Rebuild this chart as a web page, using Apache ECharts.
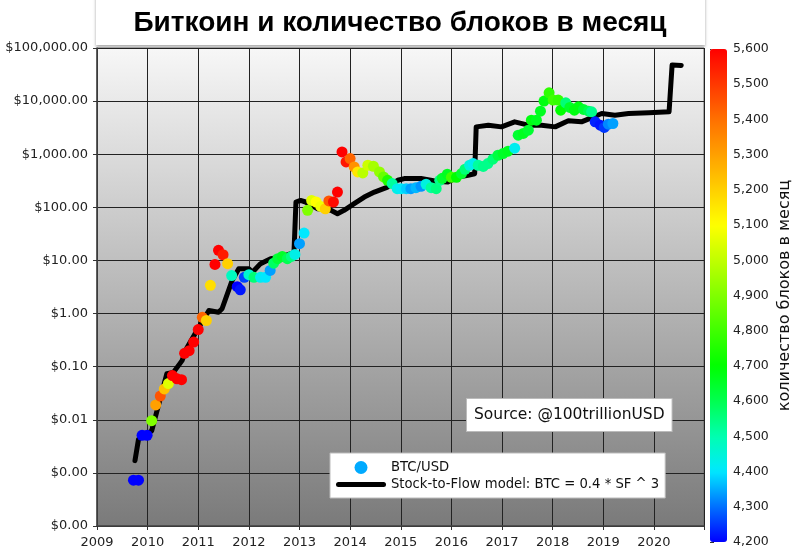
<!DOCTYPE html>
<html>
<head>
<meta charset="utf-8">
<script src="https://cdn.jsdelivr.net/npm/echarts@6/dist/echarts.min.js"></script>
<style>
html, body { margin: 0; padding: 0; background: #fff; }
#chart { width: 800px; height: 558px; }
</style>
</head>
<body>
<div id="chart"></div>
<script>
// BTC/USD monthly points (decimal year, price, blocks per month)
var btcDates = [2009.72, 2009.82, 2009.89, 2009.99, 2010.08, 2010.16, 2010.25, 2010.33, 2010.41, 2010.49,
    2010.58, 2010.67, 2010.73, 2010.82, 2010.91, 2011.00, 2011.08, 2011.16, 2011.24, 2011.33,
    2011.40, 2011.49, 2011.58, 2011.66, 2011.77, 2011.83, 2011.91, 2012.00, 2012.10, 2012.23,
    2012.33, 2012.42, 2012.49, 2012.57, 2012.66, 2012.76, 2012.84, 2012.91, 2013.00, 2013.09,
    2013.16, 2013.24, 2013.33, 2013.42, 2013.51, 2013.58, 2013.67, 2013.75, 2013.84, 2013.92,
    2014.00, 2014.08, 2014.15, 2014.25, 2014.35, 2014.46, 2014.58, 2014.66, 2014.74, 2014.83,
    2014.93, 2015.01, 2015.11, 2015.20, 2015.30, 2015.40, 2015.50, 2015.60, 2015.70, 2015.77,
    2015.82, 2015.92, 2016.00, 2016.10, 2016.20, 2016.27, 2016.36, 2016.43, 2016.53, 2016.63,
    2016.72, 2016.82, 2016.92, 2017.02, 2017.12, 2017.25, 2017.32, 2017.42, 2017.52, 2017.58,
    2017.68, 2017.76, 2017.83, 2017.93, 2018.01, 2018.11, 2018.16, 2018.26, 2018.34, 2018.43,
    2018.51, 2018.61, 2018.71, 2018.77, 2018.84, 2018.94, 2019.02, 2019.10, 2019.19];
var btcPrices = [0.00073, 0.00073, 0.0051, 0.0051, 0.0096, 0.019, 0.028, 0.038, 0.048, 0.068,
    0.059, 0.057, 0.178, 0.20, 0.29, 0.50, 0.85, 0.74, 3.4, 8.4,
    15.5, 12.8, 8.7, 5.2, 3.2, 2.8, 4.8, 5.4, 4.8, 4.8,
    4.8, 6.5, 8.9, 10.8, 11.9, 10.8, 11.9, 13.0, 20.7, 32.7,
    88, 135, 126, 104, 94, 132, 126, 194, 1105, 716,
    830, 576, 463, 444, 620, 594, 463, 373, 323, 280,
    225, 225, 225, 225, 235, 249, 272, 235, 225, 323,
    352, 420, 368, 368, 432, 521, 620, 668, 620, 590,
    668, 805, 957, 1030, 1140, 1298, 2282, 2460, 2837, 4383,
    4383, 6475, 10000, 14350, 10440, 10440, 6760, 9290, 7600, 6760,
    7800, 6970, 6475, 6280, 4070, 3520, 3190, 3680, 3790];
var btcBlocks = [4200, 4200, 4200, 4200, 4900, 5300, 5450, 5230, 5050, 5600,
    5600, 5600, 5600, 5600, 5600, 5600, 5420, 5200, 5170, 5600,
    5600, 5550, 5200, 4480, 4200, 4220, 4260, 4460, 4560, 4420,
    4400, 4340, 4580, 4630, 4650, 4600, 4550, 4430, 4340, 4400,
    4900, 5050, 5100, 5080, 5200, 5450, 5580, 5600, 5600, 5560,
    5420, 5330, 5150, 4990, 5020, 4960, 4930, 4860, 4750, 4520,
    4430, 4410, 4380, 4340, 4360, 4330, 4440, 4520, 4550, 4540,
    4640, 4660, 4800, 4700, 4640, 4560, 4450, 4420, 4520, 4540,
    4540, 4560, 4620, 4650, 4660, 4420, 4640, 4660, 4640, 4680,
    4660, 4660, 4680, 4770, 4800, 4780, 4700, 4560, 4650, 4680,
    4680, 4640, 4600, 4540, 4230, 4220, 4250, 4320, 4340];

// Stock-to-Flow model line
var modelDates = [2009.75, 2009.82, 2010.08, 2010.38, 2010.51, 2010.68, 2010.78, 2010.94, 2011.21, 2011.40,
    2011.47, 2011.67, 2011.80, 2012.00, 2012.07, 2012.23, 2012.43, 2012.63, 2012.83, 2012.89,
    2012.93, 2013.02, 2013.12, 2013.36, 2013.62, 2013.75, 2013.88, 2014.08, 2014.28, 2014.48,
    2014.74, 2014.94, 2015.07, 2015.40, 2015.70, 2015.93, 2016.13, 2016.33, 2016.46, 2016.49,
    2016.73, 2016.99, 2017.25, 2017.52, 2017.78, 2018.05, 2018.31, 2018.57, 2018.74, 2018.97,
    2019.23, 2019.50, 2019.90, 2020.30, 2020.36, 2020.54];
var modelValues = [0.0017, 0.0043, 0.0062, 0.074, 0.078, 0.13, 0.23, 0.42, 1.14, 1.06,
    1.23, 4.2, 7.0, 7.0, 6.0, 8.7, 10.8, 11.5, 13.4, 13.5,
    126, 135, 126, 94, 88, 76, 88, 117, 156, 194,
    241, 323, 348, 348, 310, 300, 373, 402, 429, 3275,
    3520, 3275, 4070, 3520, 3520, 3275, 4250, 4070, 4720, 5860,
    5440, 5860, 6020, 6280, 47800, 47000];

var colorStops = ['#0000ff', '#0070ff', '#00e8ff', '#00ffb0', '#00ff50', '#00ff00', '#40ff00', '#80ff00',
    '#c0ff00', '#ffff00', '#ffd000', '#ffa000', '#ff7000', '#ff3800', '#ff0000'];

var font = 'DejaVu Sans';
var modelName = 'Stock-to-Flow model: BTC = 0.4 * SF ^ 3';

function money(v) {
    return '$' + Number(v).toLocaleString('en-US', { minimumFractionDigits: 2, maximumFractionDigits: 2 });
}

var btcData = [];
for (var i = 0; i < btcDates.length; i++) {
    btcData.push([btcDates[i], btcPrices[i], btcBlocks[i]]);
}
var modelData = [];
for (var j = 0; j < modelDates.length; j++) {
    modelData.push([modelDates[j], modelValues[j]]);
}

var myChart = echarts.init(document.getElementById('chart'));

var option = {
    animation: false,
    backgroundColor: '#fff',
    title: {
        text: 'Биткоин и количество блоков в месяц',
        left: 'center',
        top: 9,
        padding: 0,
        textStyle: { fontFamily: 'Liberation Sans', fontWeight: 'bold', fontSize: 28, color: '#000' }
    },
    graphic: [{
        type: 'rect',
        z: -1,
        shape: { x: 96, y: -5, width: 609, height: 50 },
        style: { fill: '#fff', shadowColor: 'rgba(0,0,0,0.35)', shadowBlur: 3, shadowOffsetY: 2 }
    }, {
        type: 'text',
        z: 100,
        left: 466,
        top: 398,
        style: {
            text: 'Source: @100trillionUSD',
            font: '15.5px "DejaVu Sans"',
            fill: '#111',
            backgroundColor: '#fff',
            borderColor: '#bbb',
            borderWidth: 1,
            padding: [8, 7, 8, 7]
        }
    }],
    grid: [{
        left: 97, right: 96, top: 48, bottom: 32,
        show: true,
        borderColor: '#666',
        borderWidth: 1,
        backgroundColor: new echarts.graphic.LinearGradient(0, 0, 0, 1, [
            { offset: 0, color: '#f7f7f7' },
            { offset: 1, color: '#7a7a7a' }
        ])
    }, {
        left: 710, top: 49, width: 17, height: 493
    }],
    xAxis: [{
        type: 'value',
        gridIndex: 0,
        min: 2009,
        max: 2020.99,
        interval: 1,
        axisLine: { show: true, lineStyle: { color: '#444', width: 1.5 } },
        axisTick: { show: true, length: 4, lineStyle: { color: '#333' } },
        axisLabel: {
            fontFamily: font, fontSize: 13, color: '#222', margin: 10,
            formatter: function(v) { return v % 1 === 0 ? String(v) : ''; }
        },
        splitLine: { show: true, lineStyle: { color: '#222', width: 1 } }
    }, {
        type: 'value',
        gridIndex: 1,
        show: false
    }],
    yAxis: [{
        type: 'log',
        gridIndex: 0,
        logBase: 10,
        min: 0.0001,
        max: 100000,
        splitNumber: 9,
        axisLine: { show: true, lineStyle: { color: '#444', width: 1.5 } },
        axisTick: { show: true, length: 4, lineStyle: { color: '#333' } },
        axisLabel: { fontFamily: font, fontSize: 13, color: '#222', margin: 9, formatter: money },
        splitLine: { show: true, lineStyle: { color: '#222', width: 1 } }
    }, {
        type: 'value',
        gridIndex: 1,
        position: 'right',
        min: 4200,
        max: 5600,
        interval: 100,
        name: 'количество блоков в месяц',
        nameLocation: 'middle',
        nameRotate: 90,
        nameGap: 50,
        nameTextStyle: { fontFamily: font, fontSize: 16, color: '#111' },
        axisLine: { show: false },
        axisTick: { show: true, length: 4, lineStyle: { color: '#333' } },
        axisLabel: {
            fontFamily: font, fontSize: 12.5, color: '#222', margin: 6,
            formatter: function(v) { return Number(v).toLocaleString('en-US'); }
        },
        splitLine: { show: false }
    }],
    visualMap: {
        type: 'continuous',
        seriesIndex: 0,
        dimension: 2,
        min: 4200,
        max: 5600,
        calculable: false,
        left: 710,
        top: 49,
        padding: 0,
        itemWidth: 17,
        itemHeight: 493,
        text: null,
        showLabel: false,
        inRange: { color: colorStops }
    },
    legend: {
        orient: 'vertical',
        left: 330,
        top: 453,
        padding: [8, 6, 7, 6],
        itemGap: 4,
        itemWidth: 50,
        itemHeight: 13,
        backgroundColor: '#fff',
        borderColor: '#bbb',
        borderWidth: 1,
        textStyle: { fontFamily: font, fontSize: 13.2, color: '#111' },
        data: [
            { name: 'BTC/USD', icon: 'circle' },
            { name: modelName, icon: 'path://M2.5,0 H47.5 A2.5,2.5 0 0 1 47.5,5 H2.5 A2.5,2.5 0 0 1 2.5,0 Z' }
        ]
    },
    series: [{
        name: 'BTC/USD',
        type: 'scatter',
        xAxisIndex: 0,
        yAxisIndex: 0,
        symbolSize: 11,
        z: 3,
        itemStyle: { color: '#00aaff', opacity: 1 },
        data: btcData
    }, {
        name: modelName,
        type: 'line',
        xAxisIndex: 0,
        yAxisIndex: 0,
        showSymbol: false,
        symbol: 'none',
        z: 2,
        itemStyle: { color: '#000' },
        lineStyle: { color: '#000', width: 5, cap: 'round', join: 'round' },
        data: modelData
    }]
};

myChart.setOption(option);
</script>
</body>
</html>
